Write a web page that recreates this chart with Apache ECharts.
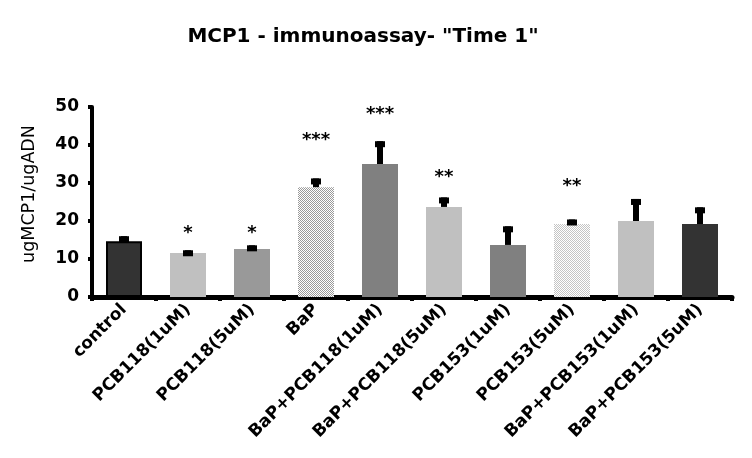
<!DOCTYPE html>
<html>
<head>
<meta charset="utf-8">
<script src="https://cdn.jsdelivr.net/npm/echarts@6/dist/echarts.min.js"></script>
<style>
  html, body { margin: 0; padding: 0; background: #fff; }
  #chart { width: 752px; height: 458px; }
</style>
</head>
<body>
<div id="chart"></div>
<script>
const categories = [
  "control", "PCB118(1uM)", "PCB118(5uM)", "BaP", "BaP+PCB118(1uM)",
  "BaP+PCB118(5uM)", "PCB153(1uM)", "PCB153(5uM)", "BaP+PCB153(1uM)", "BaP+PCB153(5uM)"
];
const means = [14.7, 11.6, 12.6, 28.9, 35.0, 23.7, 13.7, 19.2, 20.0, 19.2];
const errTops = [16.0, 12.3, 13.6, 31.2, 41.0, 26.2, 18.6, 20.4, 25.8, 23.6];
const stars = ["", "*", "*", "***", "***", "**", "", "**", "", ""];
const starLevels = [0, 16.8, 16.8, 41.3, 48.2, 31.6, 0, 29.2, 0, 0];
const yTicks = [0, 10, 20, 30, 40, 50];

function checker(dark) {
  const c = document.createElement("canvas");
  c.width = 2; c.height = 2;
  const ctx = c.getContext("2d");
  ctx.fillStyle = "#ffffff";
  ctx.fillRect(0, 0, 2, 2);
  ctx.fillStyle = dark;
  ctx.fillRect(0, 0, 1, 1);
  ctx.fillRect(1, 1, 1, 1);
  return { image: c, repeat: "repeat" };
}

const barColors = [
  "#333333", "#c0c0c0", "#999999", checker("#999999"), "#808080",
  "#c0c0c0", "#808080", checker("#c4c4c4"), "#c0c0c0", "#333333"
];

const chart = echarts.init(document.getElementById("chart"));

const option = {
  animation: false,
  title: {
    text: 'MCP1 - immunoassay- "Time 1"',
    left: 358,
    top: 22,
    textAlign: "center",
    textStyle: { fontFamily: "DejaVu Sans", fontWeight: "bold", fontSize: 20, color: "#000" }
  },
  grid: { left: 92, right: 20, top: 107, bottom: 161 },
  xAxis: {
    type: "category",
    data: categories,
    axisLine: { lineStyle: { color: "#000", width: 5 } },
    axisTick: { show: true, length: 4, lineStyle: { color: "#000", width: 4 } },
    axisLabel: {
      rotate: 45,
      interval: 0,
      margin: 10,
      color: "#000",
      fontFamily: "DejaVu Sans",
      fontWeight: "bold",
      fontSize: 17
    }
  },
  yAxis: {
    type: "value",
    min: 0,
    max: 50,
    interval: 10,
    name: "ugMCP1/ugADN",
    nameLocation: "middle",
    nameGap: 54,
    nameTextStyle: { fontFamily: "DejaVu Sans", fontSize: 17.5, color: "#000", padding: [0, 0, 0, 16] },
    splitLine: { show: false },
    axisLine: { show: true, lineStyle: { color: "#000", width: 4 } },
    axisTick: { show: true, length: 4, lineStyle: { color: "#000", width: 4 } },
    axisLabel: {
      margin: 13,
      color: "#000",
      fontFamily: "DejaVu Sans",
      fontWeight: "bold",
      fontSize: 17,
      formatter: v => (yTicks.includes(v) ? String(v) : "")
    }
  },
  series: [
    {
      type: "bar",
      barWidth: 36,
      data: means.map((v, i) => ({
        value: v,
        itemStyle: {
          color: barColors[i],
          borderColor: i === 0 ? "#000" : null,
          borderWidth: i === 0 ? 2 : 0
        }
      })),
      z: 2
    },
    {
      type: "custom",
      data: means.map((v, i) => [i, v, errTops[i]]),
      renderItem: (params, api) => {
        const base = api.coord([api.value(0), api.value(1)]);
        const top = api.coord([api.value(0), api.value(2)]);
        const x = base[0];
        return {
          type: "group",
          children: [
            { type: "rect", shape: { x: x - 3, y: top[1], width: 6, height: base[1] - top[1] }, style: { fill: "#000" } },
            { type: "rect", shape: { x: x - 5, y: top[1], width: 10, height: 6 }, style: { fill: "#000" } }
          ]
        };
      },
      z: 3
    },
    {
      type: "custom",
      data: starLevels.map((v, i) => [i, v]),
      renderItem: (params, api) => {
        const i = params.dataIndex;
        if (!stars[i]) return null;
        const p = api.coord([api.value(0), api.value(1)]);
        return {
          type: "text",
          style: {
            x: p[0], y: p[1], text: stars[i],
            align: "center", verticalAlign: "middle",
            fill: "#000",
            font: "bold 18px 'DejaVu Sans'"
          }
        };
      },
      z: 4
    }
  ]
};

chart.setOption(option);
</script>
</body>
</html>
